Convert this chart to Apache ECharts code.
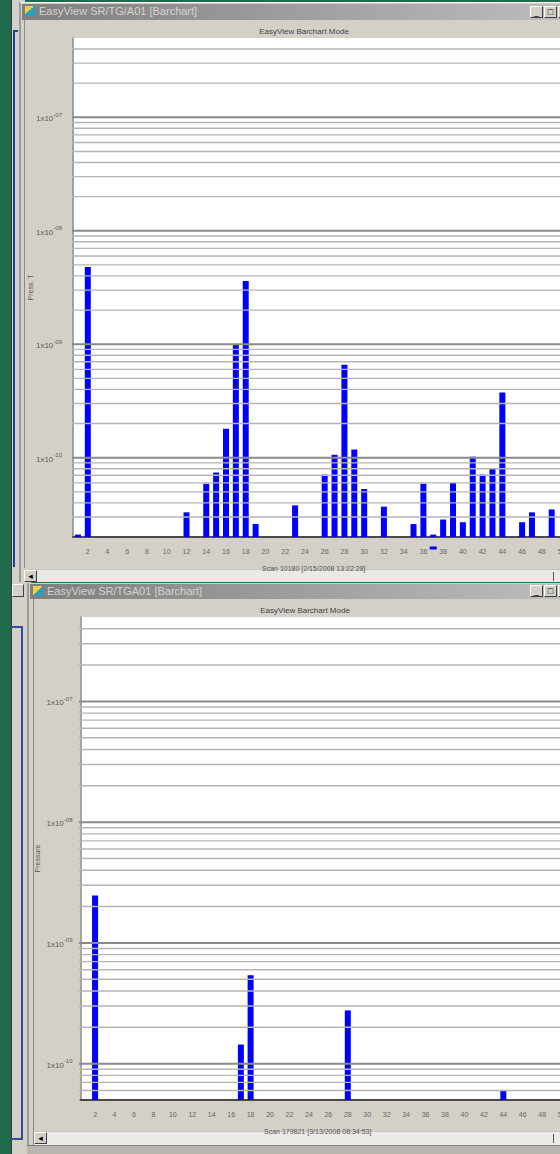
<!DOCTYPE html>
<html>
<head>
<meta charset="utf-8">
<title>EasyView Barchart Mode</title>
<script src="https://cdn.jsdelivr.net/npm/echarts@6/dist/echarts.min.js"></script>
<style>
  html, body { margin: 0; padding: 0; width: 560px; height: 1154px; overflow: hidden; background: #1f6b4c; font-family: "Liberation Sans", "DejaVu Sans", sans-serif; }
  .box { position: absolute; box-sizing: border-box; }
  .client { background: #d4d0c8; }
  .titlebar { background: linear-gradient(to right, #7f7f7f, #bdbdbd); color: #d6d3ce; font-size: 11px; line-height: 15px; white-space: nowrap; overflow: hidden; }
  .titlebar .ico { display: inline-block; width: 10px; height: 10px; margin: 2px 4px 0 3px; vertical-align: top; background: linear-gradient(135deg, #f0d040 0 45%, #2aa0c0 45% 100%); }
  .btn { background: #d4d0c8; border: 1px solid; border-color: #fff #404040 #404040 #fff; font-size: 9px; line-height: 10px; text-align: center; color: #000; }
  .scroll { background: #ebe9e5; }
  #chart { position: absolute; left: 0; top: 0; width: 560px; height: 1154px; }
</style>
</head>
<body>
  <!-- window behind, left edge -->
  <div class="box client" style="left:11px;top:0;width:14px;height:582px;border-left:1px solid #3a3a3a;"></div>
  <div class="box" style="left:13px;top:30px;width:2px;height:537px;background:#1d3fa6;"></div>
  <div class="box" style="left:13px;top:30px;width:5px;height:2px;background:#1d3fa6;"></div>
  <div class="box client" style="left:11px;top:582px;width:20px;height:572px;border-left:1px solid #3a3a3a;"></div>
  <div class="box btn" style="left:12px;top:584px;width:12px;height:13px;"></div>
  <div class="box" style="left:10px;top:626px;width:13px;height:514px;border:2px solid #2f4f9f;border-left:none;"></div>

  <!-- upper window -->
  <div class="box client" style="left:19px;top:2px;width:560px;height:580px;border-left:2px solid #9a9a9a;border-top:1px solid #f4f4f4;"></div>
  <div class="box" style="left:24px;top:20px;width:1px;height:548px;background:#8a8a8a;"></div>
  <div class="box titlebar" style="left:22px;top:4px;width:545px;height:16px;"><span class="ico"></span>EasyView SR/TG/A01 [Barchart]</div>
  <div class="box btn" style="left:530px;top:6px;width:13px;height:12px;">_</div>
  <div class="box btn" style="left:544px;top:6px;width:13px;height:12px;">&#9633;</div>
  <div class="box btn" style="left:558px;top:6px;width:13px;height:12px;"></div>
  <div class="box scroll" style="left:24px;top:569px;width:540px;height:13px;border-top:1px solid #c8c6c0;"></div>
  <div class="box btn" style="left:24px;top:570px;width:13px;height:12px;">&#9666;</div>
  <div class="box" style="left:553px;top:572px;width:1px;height:9px;background:#555;"></div>

  <!-- lower window -->
  <div class="box client" style="left:27px;top:583px;width:540px;height:571px;border-left:2px solid #9a9a9a;"></div>
  <div class="box" style="left:33px;top:598px;width:1px;height:548px;background:#8a8a8a;"></div>
  <div class="box titlebar" style="left:30px;top:584px;width:535px;height:15px;"><span class="ico"></span>EasyView SR/TGA01 [Barchart]</div>
  <div class="box btn" style="left:530px;top:585px;width:13px;height:12px;">_</div>
  <div class="box btn" style="left:544px;top:585px;width:13px;height:12px;">&#9633;</div>
  <div class="box btn" style="left:558px;top:585px;width:13px;height:12px;"></div>
  <div class="box scroll" style="left:34px;top:1131px;width:530px;height:14px;border-top:1px solid #c8c6c0;"></div>
  <div class="box btn" style="left:34px;top:1132px;width:13px;height:12px;">&#9666;</div>
  <div class="box" style="left:553px;top:1134px;width:1px;height:9px;background:#555;"></div>
  <div class="box" style="left:27px;top:1145px;width:540px;height:9px;background:#b8b5ae;border-top:1px solid #808080;"></div>

  <div id="chart"></div>

<script>
// Mass numbers (amu) shown on the horizontal axis
const massCategories = Array.from({ length: 52 }, (_, i) => String(i + 1));

// Upper scan: masses with a signal and their partial pressures
const upperMasses = [1, 2, 12, 14, 15, 16, 17, 18, 19, 23, 26, 27, 28, 29, 30, 32, 35, 36, 37, 38, 39, 40, 41, 42, 43, 44, 46, 47, 49];
const upperPressures = [2.1e-11, 4.8e-9, 3.3e-11, 5.9e-11, 7.4e-11, 1.8e-10, 1.0e-9, 3.6e-9, 2.6e-11, 3.8e-11, 7.1e-11, 1.06e-10, 6.6e-10, 1.18e-10, 5.3e-11, 3.7e-11, 2.6e-11, 5.9e-11, 2.1e-11, 2.85e-11, 6.0e-11, 2.7e-11, 1.02e-10, 7.1e-11, 8.0e-11, 3.75e-10, 2.7e-11, 3.3e-11, 3.5e-11];

// Lower scan
const lowerMasses = [2, 17, 18, 28, 44];
const lowerPressures = [2.47e-9, 1.44e-10, 5.4e-10, 2.76e-10, 6.0e-11];

// Pressure axis ranges
const upperRange = [2e-11, 5e-7];
const lowerRange = [5e-11, 5e-7];

// Decade tick labels: exponent -> superscript text
const decadeExponents = { '-7': '-07', '-8': '-08', '-9': '-09', '-10': '-10' };

const upperTitle = 'EasyView Barchart Mode';
const upperScan = 'Scan 10180 [2/15/2008 13:22:28]';
const lowerScan = 'Scan 179821 [3/13/2008 08:34:53]';
const upperYName = 'Press. T';
const lowerYName = 'Pressure';

function alignData(masses, pressures) {
  const map = {};
  masses.forEach((m, i) => { map[m] = pressures[i]; });
  return massCategories.map(c => (map[c] !== undefined ? map[c] : null));
}

// Horizontal log grid lines at 1..9 x 10^n; each starts a little left of the
// axis so that it also draws the tick mark
function gridSeries(range, gridIdx, xIdx) {
  const lo = Math.floor(Math.log10(range[0]));
  const hi = Math.ceil(Math.log10(range[1]));
  const out = [];
  for (let e = lo; e <= hi; e++) {
    for (let k = 1; k <= 9; k++) {
      const v = k * Math.pow(10, e);
      if (v <= range[0] * 1.0001 || v >= range[1] * 0.9999) continue;
      const isDecade = k === 1;
      out.push({
        type: 'line',
        xAxisIndex: xIdx, yAxisIndex: gridIdx,
        data: [[-0.011, v], [1, v]],
        symbol: 'none',
        silent: true,
        clip: false,
        z: 5,
        lineStyle: isDecade ? { color: '#8a8a8a', width: 2 } : { color: '#b5b5b5', width: 1.4 }
      });
    }
  }
  return out;
}

function decadeLabel(v) {
  const lg = Math.log10(v);
  const e = Math.round(lg);
  if (Math.abs(lg - e) > 1e-6 || !decadeExponents[String(e)]) return '';
  return '{a|1x10}{b|' + decadeExponents[String(e)] + '}';
}

const chart = echarts.init(document.getElementById('chart'), null, { renderer: 'svg' });

const xAxisBase = {
  type: 'category',
  data: massCategories,
  boundaryGap: true,
  axisLine: { lineStyle: { color: '#4a4a4a', width: 2 } },
  axisTick: { alignWithLabel: true, length: 3, interval: i => i % 2 === 1, lineStyle: { color: '#555' } },
  axisLabel: { interval: i => i % 2 === 1, fontSize: 7, color: '#666', margin: 11, fontFamily: 'Liberation Sans' },
  splitLine: { show: false }
};

// Hidden unit axis, used to stretch grid lines across the plot
const unitAxis = { type: 'value', min: 0, max: 1, show: false, splitLine: { show: false } };

const yAxisBase = {
  type: 'log',
  logBase: 10,
  splitNumber: 5,
  nameLocation: 'middle',
  nameRotate: 90,
  nameMoveOverlap: false,
  nameTextStyle: { fontSize: 7, color: '#555', fontFamily: 'Liberation Sans' },
  axisLine: { show: true, lineStyle: { color: '#8a8a8a', width: 1.5 } },
  axisTick: { show: false },
  axisLabel: {
    show: true, showMinLabel: false, showMaxLabel: false,
    formatter: decadeLabel,
    rich: {
      a: { fontSize: 8, color: '#5a5a5a', lineHeight: 11, verticalAlign: 'bottom', fontFamily: 'Liberation Sans' },
      b: { fontSize: 6, color: '#5a5a5a', lineHeight: 7, verticalAlign: 'top', fontFamily: 'Liberation Sans' }
    }
  },
  splitLine: { show: false }
};

const titleStyle = { fontSize: 8, fontWeight: 'normal', color: '#444', fontFamily: 'Liberation Sans' };
const scanStyle = { fontSize: 7, fontWeight: 'normal', color: '#555', fontFamily: 'Liberation Sans' };

chart.setOption({
  animation: false,
  backgroundColor: 'transparent',
  title: [
    { text: upperTitle, left: 299, top: 22, textAlign: 'center', textStyle: titleStyle },
    { text: upperTitle, left: 300, top: 601, textAlign: 'center', textStyle: titleStyle },
    { text: upperScan, left: 257, top: 560, textStyle: scanStyle },
    { text: lowerScan, left: 259, top: 1123, textStyle: scanStyle }
  ],
  grid: [
    { left: 73, top: 38, width: 52 * 9.87, height: 499, show: true, backgroundColor: '#ffffff', borderWidth: 0, outerBoundsMode: 'none', containLabel: false },
    { left: 80.5, top: 617, width: 52 * 9.72, height: 483, show: true, backgroundColor: '#ffffff', borderWidth: 0, outerBoundsMode: 'none', containLabel: false }
  ],
  xAxis: [
    Object.assign({}, xAxisBase, { gridIndex: 0 }),
    Object.assign({}, xAxisBase, { gridIndex: 1 }),
    Object.assign({}, unitAxis, { gridIndex: 0 }),
    Object.assign({}, unitAxis, { gridIndex: 1 })
  ],
  yAxis: [
    Object.assign({}, yAxisBase, { gridIndex: 0, min: upperRange[0], max: upperRange[1], startValue: upperRange[0], name: upperYName, nameGap: 39, axisLabel: Object.assign({}, yAxisBase.axisLabel, { margin: 11 }) }),
    Object.assign({}, yAxisBase, { gridIndex: 1, min: lowerRange[0], max: lowerRange[1], startValue: lowerRange[0], name: lowerYName, nameGap: 40, axisLabel: Object.assign({}, yAxisBase.axisLabel, { margin: 8 }) })
  ],
  series: [
    {
      type: 'bar',
      xAxisIndex: 0, yAxisIndex: 0,
      data: alignData(upperMasses, upperPressures),
      barWidth: 6,
      z: 2,
      itemStyle: { color: '#0000ff' },
      markPoint: {
        silent: true,
        data: [{ coord: ['37', upperRange[0]], symbol: 'rect', symbolSize: [7, 3], symbolOffset: [0, 11], itemStyle: { color: '#0000ff' }, label: { show: false } }]
      }
    },
    {
      type: 'bar',
      xAxisIndex: 1, yAxisIndex: 1,
      data: alignData(lowerMasses, lowerPressures),
      barWidth: 6,
      z: 2,
      itemStyle: { color: '#0000ff' }
    }
  ].concat(gridSeries(upperRange, 0, 2), gridSeries(lowerRange, 1, 3))
});
</script>
</body>
</html>
